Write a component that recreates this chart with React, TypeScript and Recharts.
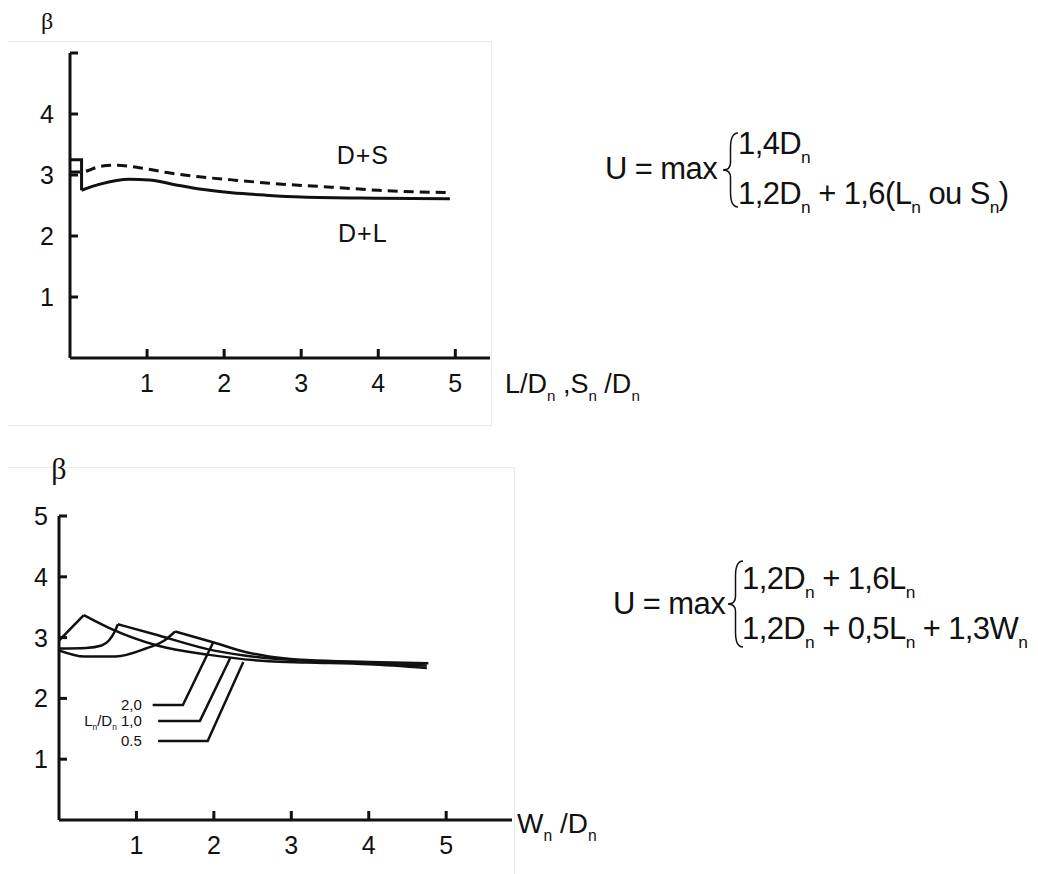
import React from "react";
import { LineChart, Line, XAxis, YAxis, ReferenceDot } from "recharts";

const INK = "#111";
const SANS = "'Liberation Sans', Arial, sans-serif";
const SERIF = "'Liberation Serif', 'DejaVu Serif', serif";

// upper chart: beta vs L/Dn, Sn/Dn
const topTicksX = [1, 2, 3, 4, 5];
const topTicksY = [1, 2, 3, 4, 5];
const dlStepX = [0, 0.15, 0.15];
const dlStepY = [3.25, 3.25, 2.75];
const dlX = [0.15, 0.39, 0.77, 1.03, 1.33, 1.68, 2.1, 2.54, 3.0, 4.0, 4.93];
const dlY = [2.75, 2.85, 2.93, 2.92, 2.85, 2.77, 2.71, 2.67, 2.64, 2.62, 2.61];
const dsX = [0, 0.15, 0.39, 0.6, 0.9, 1.26, 1.68, 2.1, 2.75, 3.4, 4.0, 4.93];
const dsY = [3.05, 3.05, 3.14, 3.16, 3.12, 3.04, 2.97, 2.92, 2.85, 2.8, 2.75, 2.71];

// lower chart: beta vs Wn/Dn for Ln/Dn = 0.5, 1.0, 2.0
const botTicksX = [1, 2, 3, 4, 5];
const botTicksY = [1, 2, 3, 4, 5];
const r05RiseX = [0, 0.32];
const r05RiseY = [2.95, 3.37];
const r05FallX = [0.32, 0.68, 1.27, 1.92, 2.71, 3.2, 4.0, 4.75];
const r05FallY = [3.37, 3.14, 2.87, 2.72, 2.61, 2.59, 2.56, 2.5];
const r10RiseX = [0, 0.35, 0.55, 0.65, 0.72, 0.76];
const r10RiseY = [2.82, 2.83, 2.87, 2.96, 3.1, 3.22];
const r10FallX = [0.76, 1.22, 1.99, 2.71, 3.2, 4.0, 4.75];
const r10FallY = [3.22, 3.06, 2.79, 2.66, 2.62, 2.58, 2.54];
const r20RiseX = [0, 0.33, 0.73, 1.12, 1.37, 1.5];
const r20RiseY = [2.79, 2.69, 2.69, 2.82, 2.96, 3.1];
const r20FallX = [1.5, 2.0, 2.42, 2.71, 3.2, 4.0, 4.77];
const r20FallY = [3.1, 2.92, 2.76, 2.69, 2.63, 2.6, 2.58];
const lead20X = [1.21, 1.6, 1.99];
const lead20Y = [1.89, 1.89, 2.92];
const lead10X = [1.28, 1.82, 2.21];
const lead10Y = [1.63, 1.63, 2.66];
const lead05X = [1.28, 1.92, 2.38];
const lead05Y = [1.3, 1.3, 2.6];

const pts = (xs: number[], ys: number[]) => xs.map((x, i) => ({ x, y: ys[i] }));

type Part = [string, boolean?];

function SubText({ x, y, parts, size, anchor = "start", family = SANS, spacing = 0 }: any) {
  let prev = 0;
  return (
    <text x={x} y={y} fontSize={size} fontFamily={family} fill={INK} textAnchor={anchor} letterSpacing={spacing} style={{ whiteSpace: "pre" }}>
      {parts.map(([t, s]: Part, i: number) => {
        const off = s ? size * 0.28 : 0;
        const dy = off - prev;
        prev = off;
        return (
          <tspan key={i} dy={dy} fontSize={s ? size * 0.56 : size}>
            {t}
          </tspan>
        );
      })}
    </text>
  );
}

const yTick = (gap: number, len: number, size: number, hide: number[] = []) => (p: any) => {
  const ax = p.x + gap;
  const v = p.payload.value;
  return (
    <g>
      <line x1={ax} x2={ax + len} y1={p.y} y2={p.y} stroke={INK} strokeWidth={3} />
      {!hide.includes(v) && (
        <text x={p.x} y={p.y} dy="0.36em" textAnchor="end" fontSize={size} fontFamily={SANS} fill={INK}>
          {v}
        </text>
      )}
    </g>
  );
};

const xTick = (gap: number, len: number, size: number) => (p: any) => {
  const ay = p.y - gap;
  return (
    <g>
      <line x1={p.x} x2={p.x} y1={ay} y2={ay - len} stroke={INK} strokeWidth={3} />
      <text x={p.x} y={p.y} dy="0.72em" textAnchor="middle" fontSize={size} fontFamily={SANS} fill={INK}>
        {p.payload.value}
      </text>
    </g>
  );
};

const smallLabel = (parts: Part[]) => (p: any) => (
  <SubText x={p.viewBox.x} y={p.viewBox.y + 5} parts={parts} size={15} anchor="end" />
);

const braceD = (x: number, y1: number, y2: number, w: number) => {
  const m = (y1 + y2) / 2;
  const xr = x + w;
  const xm = x + w / 2;
  return `M ${xr} ${y1} Q ${xm} ${y1} ${xm} ${y1 + w} L ${xm} ${m - w / 2} Q ${xm} ${m} ${x} ${m} Q ${xm} ${m} ${xm} ${m + w / 2} L ${xm} ${y2 - w} Q ${xm} ${y2} ${xr} ${y2}`;
};

const axisStyle = { stroke: INK, strokeWidth: 3 };
const lineProps = { dataKey: "y", stroke: INK, dot: false, activeDot: false, isAnimationActive: false } as const;
const tagStyle = { position: "center", fontSize: 25, fill: INK, fontFamily: SANS, letterSpacing: 1 } as const;

export default function App() {
  return (
    <div style={{ position: "relative", width: 1038, height: 874, background: "#fff" }}>
      <style>{"body{margin:0}"}</style>

      {/* faint scan frames */}
      <div style={{ position: "absolute", left: 8, top: 41, width: 483, height: 383, borderTop: "1px solid #eaeaea", borderRight: "1px solid #eaeaea", borderBottom: "1px solid #eaeaea" }} />
      <div style={{ position: "absolute", left: 8, top: 467, width: 506, height: 407, borderTop: "1px solid #eaeaea", borderRight: "1px solid #eaeaea" }} />

      <div style={{ position: "absolute", left: 0, top: 0 }}>
        <LineChart width={520} height={430} margin={{ top: 53, right: 30, bottom: 32, left: 30 }}>
          <XAxis dataKey="x" type="number" domain={[0, 5.45]} allowDataOverflow ticks={topTicksX} interval={0} height={40} axisLine={axisStyle} tickLine={false} tickSize={0} tickMargin={16} tick={xTick(16, 9, 25)} />
          <YAxis type="number" domain={[0, 5]} allowDataOverflow ticks={topTicksY} interval={0} width={40} axisLine={axisStyle} tickLine={false} tickSize={0} tickMargin={16} tick={yTick(16, 8, 25, [5])} />
          <Line {...lineProps} data={pts(dlStepX, dlStepY)} type="linear" strokeWidth={3} />
          <Line {...lineProps} data={pts(dlX, dlY)} type="monotone" strokeWidth={3} />
          <Line {...lineProps} data={pts(dsX, dsY)} type="monotone" strokeWidth={3} strokeDasharray="10 6" />
          <ReferenceDot x={3.8} y={3.33} r={0} stroke="none" label={{ value: "D+S", ...tagStyle }} />
          <ReferenceDot x={3.8} y={2.05} r={0} stroke="none" label={{ value: "D+L", ...tagStyle }} />
        </LineChart>
      </div>

      <div style={{ position: "absolute", left: 0, top: 440 }}>
        <LineChart width={600} height={430} margin={{ top: 76, right: 88, bottom: 10, left: 19 }}>
          <XAxis dataKey="x" type="number" domain={[0, 5.85]} allowDataOverflow ticks={botTicksX} interval={0} height={40} axisLine={axisStyle} tickLine={false} tickSize={0} tickMargin={16} tick={xTick(16, 9, 25)} />
          <YAxis type="number" domain={[0, 5]} allowDataOverflow ticks={botTicksY} interval={0} width={40} axisLine={axisStyle} tickLine={false} tickSize={0} tickMargin={11} tick={yTick(11, 8, 25)} />
          <Line {...lineProps} data={pts(r05RiseX, r05RiseY)} type="linear" strokeWidth={2.5} />
          <Line {...lineProps} data={pts(r05FallX, r05FallY)} type="monotone" strokeWidth={2.5} />
          <Line {...lineProps} data={pts(r10RiseX, r10RiseY)} type="monotone" strokeWidth={2.5} />
          <Line {...lineProps} data={pts(r10FallX, r10FallY)} type="monotone" strokeWidth={2.5} />
          <Line {...lineProps} data={pts(r20RiseX, r20RiseY)} type="monotone" strokeWidth={2.5} />
          <Line {...lineProps} data={pts(r20FallX, r20FallY)} type="monotone" strokeWidth={2.5} />
          <Line {...lineProps} data={pts(lead20X, lead20Y)} type="linear" strokeWidth={2.5} />
          <Line {...lineProps} data={pts(lead10X, lead10Y)} type="linear" strokeWidth={2.5} />
          <Line {...lineProps} data={pts(lead05X, lead05Y)} type="linear" strokeWidth={2.5} />
          <ReferenceDot x={1.07} y={1.89} r={0} stroke="none" label={{ content: smallLabel([["2,0"]]) }} />
          <ReferenceDot x={1.07} y={1.63} r={0} stroke="none" label={{ content: smallLabel([["L"], ["n", true], ["/D"], ["n", true], [" 1,0"]]) }} />
          <ReferenceDot x={1.07} y={1.3} r={0} stroke="none" label={{ content: smallLabel([["0.5"]]) }} />
        </LineChart>
      </div>

      <svg width={1038} height={874} style={{ position: "absolute", left: 0, top: 0, pointerEvents: "none" }}>
        <text x={47} y={29} fontSize={24} fontFamily={SERIF} textAnchor="middle" fill={INK}>β</text>
        <text x={59} y={479} fontSize={30} fontFamily={SERIF} textAnchor="middle" fill={INK}>β</text>

        <SubText x={505} y={393} size={27} parts={[["L/D"], ["n", true], [" ,S"], ["n", true], [" /D"], ["n", true]]} />
        <SubText x={517} y={833} size={28} parts={[["W"], ["n", true], [" /D"], ["n", true]]} />

        <SubText x={605} y={179} size={31} spacing={-0.6} parts={[["U = max"]]} />
        <path d={braceD(723, 133, 207, 15)} fill="none" stroke={INK} strokeWidth={1.5} />
        <SubText x={738} y={154} size={31} spacing={-0.6} parts={[["1,4D"], ["n", true]]} />
        <SubText x={738} y={204} size={31} spacing={-0.6} parts={[["1,2D"], ["n", true], [" + 1,6(L"], ["n", true], [" ou S"], ["n", true], [")"]]} />

        <SubText x={613} y={614} size={31} spacing={-0.6} parts={[["U = max"]]} />
        <path d={braceD(728, 561, 647, 15)} fill="none" stroke={INK} strokeWidth={1.5} />
        <SubText x={742} y={589} size={31} spacing={-0.6} parts={[["1,2D"], ["n", true], [" + 1,6L"], ["n", true]]} />
        <SubText x={742} y={639} size={31} spacing={-0.6} parts={[["1,2D"], ["n", true], [" + 0,5L"], ["n", true], [" + 1,3W"], ["n", true]]} />
      </svg>
    </div>
  );
}
